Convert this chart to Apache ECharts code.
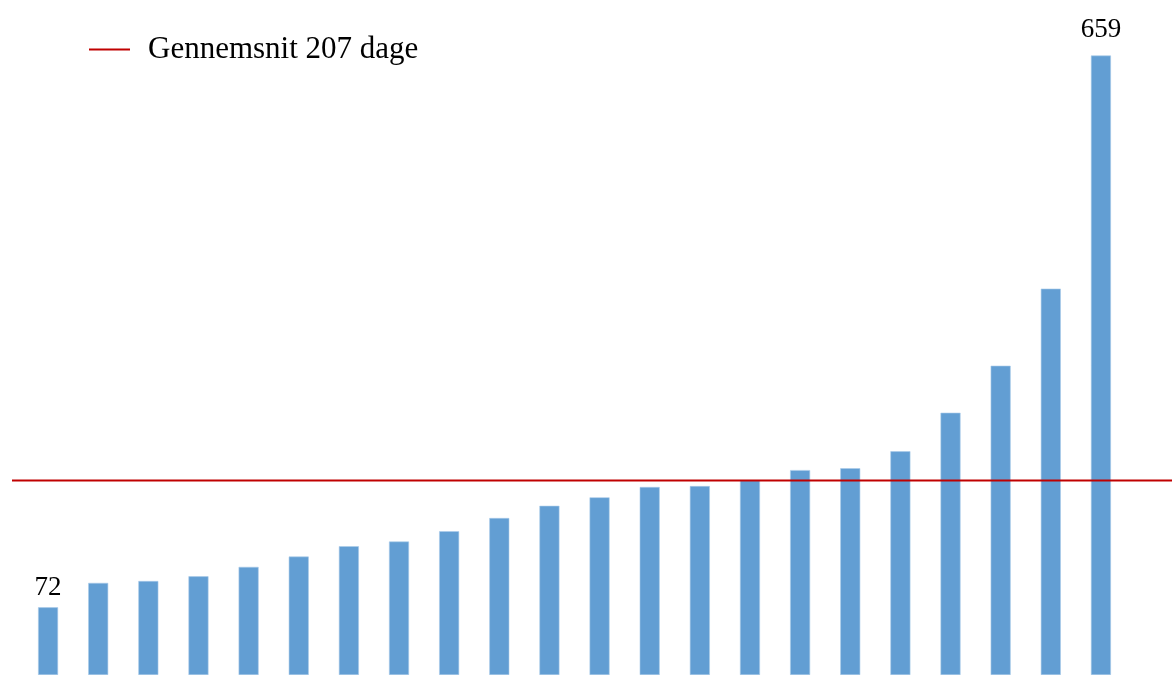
<!DOCTYPE html>
<html>
<head>
<meta charset="utf-8">
<script src="https://cdn.jsdelivr.net/npm/echarts@6/dist/echarts.min.js"></script>
<style>
html,body{margin:0;padding:0;background:#fff;}
#c{width:1172px;height:675px;}
</style>
</head>
<body>
<div id="c"></div>
<script>
var categories = ['1','2','3','4','5','6','7','8','9','10','11','12','13','14','15','16','17','18','19','20','21','22'];
var values = [72, 98, 100, 105, 115, 126, 137, 142, 153, 167, 180, 189, 200, 201, 207, 218, 220, 238, 279, 329, 411, 659];
var averageValue = 207;
var averageName = 'Gennemsnit 207 dage';
var labelledIndexes = [0, 21];

var FONT = '"Liberation Serif", "DejaVu Serif", serif';
var chart = echarts.init(document.getElementById('c'));

var barData = values.map(function (v, i) {
  if (labelledIndexes.indexOf(i) >= 0) {
    return { value: v, label: { show: true, position: 'top', distance: i === 0 ? 6 : 12 } };
  }
  return v;
});

chart.setOption({
  animation: false,
  backgroundColor: '#ffffff',
  legend: {
    data: [{ name: averageName, icon: 'rect' }],
    left: 89,
    top: 34,
    padding: 0,
    itemWidth: 41,
    itemHeight: 2,
    itemGap: 0,
    textStyle: { fontFamily: FONT, fontSize: 31, color: '#000', lineHeight: 31, padding: [0, 0, 0, 13] }
  },
  grid: [
    { left: 23, right: 46, top: 17, bottom: -2, containLabel: false },
    { left: 12, right: 0, top: 17, bottom: -2, containLabel: false }
  ],
  xAxis: [
    { type: 'category', gridIndex: 0, data: categories, show: false, boundaryGap: true },
    { type: 'value', gridIndex: 1, min: 0, max: 1, show: false }
  ],
  yAxis: [
    { type: 'value', gridIndex: 0, min: 0, max: 700, show: false },
    { type: 'value', gridIndex: 1, min: 0, max: 700, show: false }
  ],
  series: [
    {
      type: 'bar',
      xAxisIndex: 0,
      yAxisIndex: 0,
      data: barData,
      barWidth: 20,
      itemStyle: { color: '#629ED3', borderColor: '#A9CBEA', borderWidth: 0.6 },
      label: { show: false, fontFamily: FONT, fontSize: 27, color: '#000' },
      z: 2
    },
    {
      name: averageName,
      type: 'line',
      xAxisIndex: 1,
      yAxisIndex: 1,
      data: [[0, averageValue], [1, averageValue]],
      symbol: 'none',
      lineStyle: { color: '#C00000', width: 2 },
      itemStyle: { color: '#C00000' },
      z: 3
    }
  ]
});
</script>
</body>
</html>
